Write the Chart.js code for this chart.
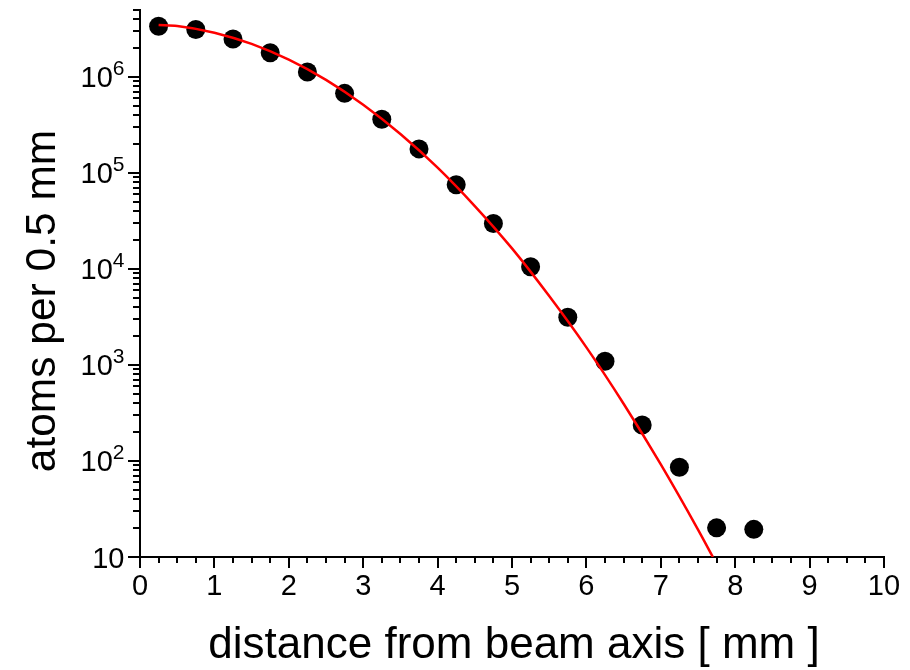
<!DOCTYPE html>
<html>
<head>
<meta charset="utf-8">
<title>atoms per 0.5 mm</title>
<script src="https://cdn.jsdelivr.net/npm/chart.js@4/dist/chart.umd.min.js"></script>
<style>
    html, body { margin: 0; padding: 0; background: #fff; }
    #wrap { width: 910px; height: 670px; }
</style>
</head>
<body>
<div id="wrap"><canvas id="profileChart" width="910" height="670"></canvas></div>
<script>
// measured points (bin centres, mm) and counts
const binCenters = [0.25, 0.75, 1.25, 1.75, 2.25, 2.75, 3.25, 3.75, 4.25, 4.75, 5.25, 5.75, 6.25, 6.75, 7.25, 7.75, 8.25];
const atomCounts = [3.35e6, 3.09e6, 2.47e6, 1.77e6, 1.12e6, 6.7e5, 3.6e5, 1.77e5, 7.5e4, 2.96e4, 1.05e4, 3.13e3, 1.09e3, 237, 86, 20.1, 19.4];

// red fit curve
const fitX = [0.25, 0.5, 1.0, 1.5, 2.0, 2.5, 3.0, 3.5, 4.0, 4.5, 5.0, 5.5, 6.0, 6.5, 7.0, 7.5, 7.7];
const fitY = [3.45e6, 3.37e6, 2.87e6, 2.19e6, 1.5e6, 9.25e5, 5.1e5, 2.53e5, 1.13e5, 4.5e4, 1.63e4, 5.2e3, 1.52e3, 394, 92, 19.3, 10];

// axes
const xMin = 0, xMax = 10, xMinorStep = 0.25;
const yMin = 10, yMax = 5e6;
const yTickValues = [10, 1e2, 1e3, 1e4, 1e5, 1e6];
const yTickExponents = ['', '2', '3', '4', '5', '6'];

const xTitle = 'distance from beam axis [ mm ]';
const yTitle = 'atoms per 0.5 mm';
const FONT = '"Liberation Sans", Arial, sans-serif';

// ticks, y labels with superscripts and axis titles
const axisDecor = {
    id: 'axisDecor',
    afterDraw(chart) {
        const ctx = chart.ctx;
        const xs = chart.scales.x;
        const ys = chart.scales.y;
        ctx.save();
        ctx.strokeStyle = '#000';
        ctx.lineWidth = 2;

        xs.ticks.forEach(t => {
            const px = Math.round(xs.getPixelForValue(t.value));
            const len = Number.isInteger(t.value) ? 11 : 6;
            ctx.beginPath();
            ctx.moveTo(px, xs.top);
            ctx.lineTo(px, xs.top + len);
            ctx.stroke();
        });

        ys.ticks.forEach(t => {
            const py = Math.round(ys.getPixelForValue(t.value));
            const len = yTickValues.includes(t.value) ? 12 : 7;
            ctx.beginPath();
            ctx.moveTo(ys.right, py);
            ctx.lineTo(ys.right - len, py);
            ctx.stroke();
        });

        // y tick labels
        ctx.fillStyle = '#000';
        ctx.textBaseline = 'alphabetic';
        ctx.textAlign = 'right';
        const labelRight = ys.right - 15.5;
        yTickValues.forEach((v, i) => {
            const py = ys.getPixelForValue(v);
            const exp = yTickExponents[i];
            let right = labelRight;
            if (exp) {
                ctx.font = '21px ' + FONT;
                ctx.fillText(exp, right, py - 1.5);
                right -= ctx.measureText(exp).width;
            }
            ctx.font = '29px ' + FONT;
            ctx.fillText('10', right, py + 10.5);
        });

        // axis titles
        ctx.textAlign = 'center';
        ctx.font = '44px ' + FONT;
        ctx.fillText(xTitle, (xs.left + xs.right) / 2 + 2, 658);

        ctx.translate(55, 301);
        ctx.rotate(-Math.PI / 2);
        ctx.font = '42.5px ' + FONT;
        ctx.fillText(yTitle, 0, 0);
        ctx.restore();
    }
};

function buildChart() {
    const ctx = document.getElementById('profileChart').getContext('2d');

    new Chart(ctx, {
        type: 'scatter',
        data: {
            datasets: [
                {
                    label: 'fit',
                    type: 'line',
                    data: fitX.map((x, i) => ({ x: x, y: fitY[i] })),
                    borderColor: '#ff0000',
                    borderWidth: 2.5,
                    pointRadius: 0,
                    fill: false,
                    cubicInterpolationMode: 'monotone',
                    order: 1
                },
                {
                    label: 'atoms',
                    data: binCenters.map((x, i) => ({ x: x, y: atomCounts[i] })),
                    backgroundColor: '#000',
                    borderColor: '#000',
                    borderWidth: 0,
                    pointRadius: 9.5,
                    order: 2
                }
            ]
        },
        options: {
            responsive: false,
            animation: false,
            layout: { padding: { top: 6, right: 26, bottom: 0, left: 0 } },
            plugins: {
                legend: { display: false },
                tooltip: { enabled: false }
            },
            scales: {
                x: {
                    type: 'linear',
                    min: xMin,
                    max: xMax,
                    border: { display: true, color: '#000', width: 2 },
                    grid: { drawOnChartArea: false, drawTicks: false },
                    ticks: {
                        stepSize: xMinorStep,
                        autoSkip: false,
                        maxRotation: 0,
                        padding: 13,
                        color: '#000',
                        font: { family: FONT, size: 29 },
                        callback: v => Number.isInteger(v) ? String(v) : ''
                    },
                    afterFit: s => {
                        s.height = 113;
                        s.paddingLeft = 0;
                        s.paddingRight = 0;
                    }
                },
                y: {
                    type: 'logarithmic',
                    min: yMin,
                    max: yMax,
                    border: { display: true, color: '#000', width: 2 },
                    grid: { drawOnChartArea: false, drawTicks: false },
                    ticks: { display: false },
                    afterBuildTicks: s => {
                        const ticks = [];
                        for (let e = 1; e <= 6; e++) {
                            for (let m = 1; m <= 9; m++) {
                                const v = m * Math.pow(10, e);
                                if (v >= yMin && v <= yMax) ticks.push({ value: v });
                            }
                        }
                        s.ticks = ticks;
                    },
                    afterFit: s => { s.width = 140; }
                }
            }
        },
        plugins: [axisDecor]
    });
}

document.addEventListener('DOMContentLoaded', buildChart);
</script>
</body>
</html>
